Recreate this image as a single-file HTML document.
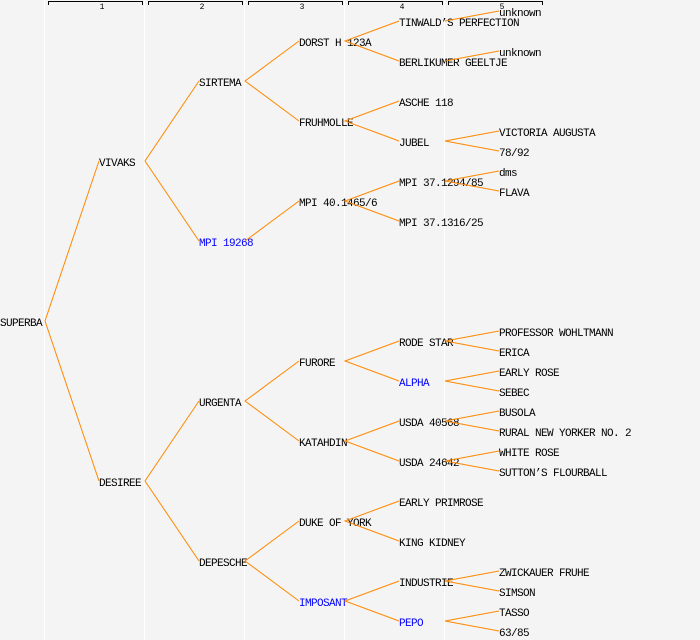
<!DOCTYPE html>
<html><head><meta charset="utf-8"><style>
html,body{margin:0;padding:0;background:#f4f4f4;}
svg{display:block;}
text{font-family:"Liberation Mono",monospace;font-size:11px;letter-spacing:-0.6px;fill:#000;}
.b{fill:#0000ff;}
.h{font-size:8px;letter-spacing:0;text-anchor:middle;}
</style></head><body>
<svg width="700" height="640" viewBox="0 0 700 640" xmlns="http://www.w3.org/2000/svg">
<rect x="0" y="0" width="700" height="640" fill="#f4f4f4"/>
<g fill="#ffffff">
<rect x="44" y="0" width="1" height="640"/>
<rect x="144" y="0" width="1" height="640"/>
<rect x="244" y="0" width="1" height="640"/>
<rect x="344" y="0" width="1" height="640"/>
<rect x="444" y="0" width="1" height="640"/>
</g>
<g stroke="#000" stroke-width="1" fill="none" shape-rendering="crispEdges">
<path d="M48.5 5V1.5H142.5V5"/>
<path d="M148.5 5V1.5H242.5V5"/>
<path d="M248.5 5V1.5H342.5V5"/>
<path d="M348.5 5V1.5H442.5V5"/>
<path d="M448.5 5V1.5H542.5V5"/>
</g>
<text class="h" x="102" y="9">1</text>
<text class="h" x="202" y="9">2</text>
<text class="h" x="302" y="9">3</text>
<text class="h" x="402" y="9">4</text>
<text class="h" x="502" y="9">5</text>

<!-- gen0 -->
<text x="0" y="326">SUPERBA</text>
<!-- gen1 -->
<text x="99" y="166">VIVAKS</text>
<text x="99" y="486">DESIREE</text>
<!-- gen2 -->
<text x="199" y="86">SIRTEMA</text>
<text x="199" y="246" class="b">MPI 19268</text>
<text x="199" y="406">URGENTA</text>
<text x="199" y="566">DEPESCHE</text>
<!-- gen3 -->
<text x="299" y="46">DORST H 123A</text>
<text x="299" y="126">FRUHMOLLE</text>
<text x="299" y="206">MPI 40.1465/6</text>
<text x="299" y="366">FURORE</text>
<text x="299" y="446">KATAHDIN</text>
<text x="299" y="526">DUKE OF YORK</text>
<text x="299" y="606" class="b">IMPOSANT</text>
<!-- gen4 -->
<text x="399" y="26">TINWALD’S PERFECTION</text>
<text x="399" y="66">BERLIKUMER GEELTJE</text>
<text x="399" y="106">ASCHE 118</text>
<text x="399" y="146">JUBEL</text>
<text x="399" y="186">MPI 37.1294/85</text>
<text x="399" y="226">MPI 37.1316/25</text>
<text x="399" y="346">RODE STAR</text>
<text x="399" y="386" class="b">ALPHA</text>
<text x="399" y="426">USDA 40568</text>
<text x="399" y="466">USDA 24642</text>
<text x="399" y="506">EARLY PRIMROSE</text>
<text x="399" y="546">KING KIDNEY</text>
<text x="399" y="586">INDUSTRIE</text>
<text x="399" y="626" class="b">PEPO</text>
<!-- gen5 -->
<text x="499" y="16">unknown</text>
<text x="499" y="56">unknown</text>
<text x="499" y="136">VICTORIA AUGUSTA</text>
<text x="499" y="156">78/92</text>
<text x="499" y="176">dms</text>
<text x="499" y="196">FLAVA</text>
<text x="499" y="336">PROFESSOR WOHLTMANN</text>
<text x="499" y="356">ERICA</text>
<text x="499" y="376">EARLY ROSE</text>
<text x="499" y="396">SEBEC</text>
<text x="499" y="416">BUSOLA</text>
<text x="499" y="436">RURAL NEW YORKER NO. 2</text>
<text x="499" y="456">WHITE ROSE</text>
<text x="499" y="476">SUTTON’S FLOURBALL</text>
<text x="499" y="576">ZWICKAUER FRUHE</text>
<text x="499" y="596">SIMSON</text>
<text x="499" y="616">TASSO</text>
<text x="499" y="636">63/85</text>

<g stroke="#ff8800" stroke-width="1" fill="none">
<path d="M99 161L45 321L99 481"/>
<path d="M199 81L145 161L199 241"/>
<path d="M199 401L145 481L199 561"/>
<path d="M299 41L245 81L299 121"/>
<path d="M245 241L299 201"/>
<path d="M299 361L245 401L299 441"/>
<path d="M299 521L245 561L299 601"/>
<path d="M399 21L345 41L399 61"/>
<path d="M399 101L345 121L399 141"/>
<path d="M399 181L345 201L399 221"/>
<path d="M399 341L345 361L399 381"/>
<path d="M399 421L345 441L399 461"/>
<path d="M399 501L345 521L399 541"/>
<path d="M399 581L345 601L399 621"/>
<path d="M445 21L499 11"/>
<path d="M445 61L499 51"/>
<path d="M499 131L445 141L499 151"/>
<path d="M499 171L445 181L499 191"/>
<path d="M499 331L445 341L499 351"/>
<path d="M499 371L445 381L499 391"/>
<path d="M499 411L445 421L499 431"/>
<path d="M499 451L445 461L499 471"/>
<path d="M499 571L445 581L499 591"/>
<path d="M499 611L445 621L499 631"/>
</g>
</svg>
</body></html>
